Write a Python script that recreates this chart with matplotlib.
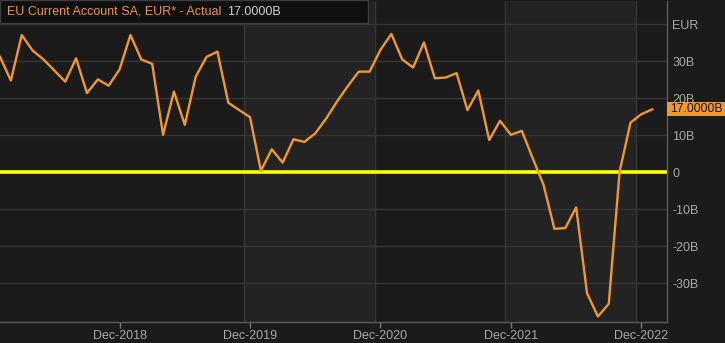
import matplotlib.pyplot as plt
from matplotlib.patches import Rectangle

plt.rcParams['font.family'] = ['Liberation Sans', 'DejaVu Sans']

# monthly values, Jan-2018 .. Jan-2023 (EUR bn)
months = list(range(61))
values = [31.2, 24.8, 37.1, 32.9, 30.5, 27.5, 24.5, 30.8, 21.4, 25.1,
          23.4, 27.8, 37.1, 30.5, 29.3, 10.1, 21.8, 12.8, 25.8, 31.2,
          32.6, 18.8, 16.8, 14.9, 0.4, 6.2, 2.6, 8.9, 8.2, 10.5,
          14.5, 19.1, 23.3, 27.2, 27.2, 33.1, 37.4, 30.5, 28.3, 35.1,
          25.4, 25.6, 26.8, 16.8, 22.1, 8.7, 13.9, 10.1, 11.2, 3.8,
          -3.4, -15.3, -15.1, -9.5, -32.7, -39.0, -35.6, 0.2, 13.4, 15.7,
          17.0]
tick_pos = [11, 23, 35, 47, 59]
tick_labels = ['Dec-2018', 'Dec-2019', 'Dec-2020', 'Dec-2021', 'Dec-2022']
y_ticks = [-30, -20, -10, 0, 10, 20, 30, 40]
y_labels = ['-30B', '-20B', '-10B', '0', '10B', '20B', '30B', 'EUR']
last_label = '17.0000B'

bg = '#1b1b1b'
band = '#232323'
grid = '#363636'
txt = '#a9a9a9'
orange = '#f0972f'

W, H = 725, 343
fig = plt.figure(figsize=(W / 100, H / 100), dpi=100, facecolor=bg)
ax = fig.add_axes([0, 1 - 322 / H, 666.7 / W, 321 / H], facecolor=bg)

ax.set_xlim(0, 61.33)
ax.set_ylim(-40.5, 46.3)

# alternating year bands and their edges
for k, t in enumerate(tick_pos[1:]):
    edge = t - 0.52
    ax.axvline(edge, color=grid, lw=1, zorder=1)
    if k % 2 == 0:
        ax.axvspan(edge, edge + 12.05, color=band, lw=0, zorder=0)

for y in y_ticks:
    ax.axhline(y, color=grid, lw=1, zorder=1)

ax.axhline(0, color='#ffff00', lw=2.6, zorder=2)
ax.plot(months, values, color=orange, lw=1.7, zorder=3)

ax.set_xticks(tick_pos)
ax.set_xticklabels(tick_labels)
ax.set_yticks(y_ticks)
ax.set_yticklabels(y_labels)
ax.yaxis.tick_right()
ax.tick_params(axis='x', colors='#777777', labelcolor=txt, length=4, width=1,
               labelsize=9, pad=2)
ax.tick_params(axis='y', length=0, labelcolor=txt, labelsize=9, pad=4)
for s in ['left', 'top']:
    ax.spines[s].set_visible(False)
for s in ['bottom', 'right']:
    ax.spines[s].set_color('#5a5a5a')
    ax.spines[s].set_linewidth(1)

# value tag on the right axis
tag_y = ax.transData.transform((0, values[-1]))[1] / H
fig.patches.append(Rectangle((667 / W, tag_y - 7 / H), 58 / W, 14 / H,
                             transform=fig.transFigure, fc=orange,
                             ec='none', zorder=4))
fig.text(670 / W, tag_y, last_label, ha='left', va='center', fontsize=8.8,
         color='#161616', zorder=6)

# title box
fig.patches.append(Rectangle((0, 1 - 23 / H), 368 / W, 23 / H,
                             transform=fig.transFigure, fc='#101010',
                             ec='#3c3c3c', lw=1, zorder=4))
t1 = fig.text(7 / W, 1 - 12 / H, 'EU Current Account SA, EUR* - Actual',
              color=orange, fontsize=9, va='center', ha='left', zorder=5)
fig.canvas.draw()
x_end = t1.get_window_extent().x1
fig.text((x_end + 6) / W, 1 - 12 / H, last_label, color='#d2d2d2',
         fontsize=9, va='center', ha='left', zorder=5)

fig.savefig('out.png', dpi=100, facecolor=bg)
